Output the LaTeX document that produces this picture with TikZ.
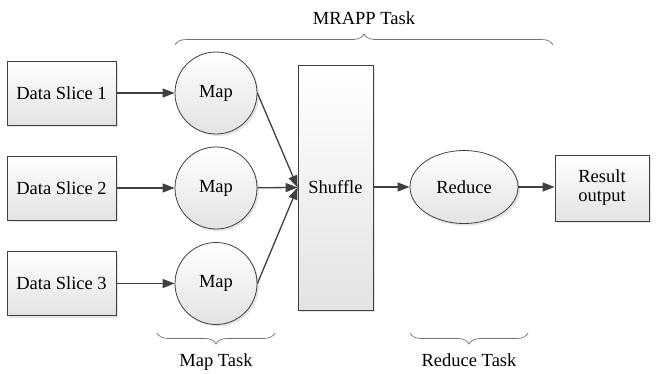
\documentclass[tikz,border=0pt]{standalone}
\usepackage{fontspec}
\setmainfont{Liberation Serif}
\usetikzlibrary{arrows.meta,shapes.geometric,shadows,decorations.pathreplacing}
\newcommand\figfont{\rmfamily\fontsize{18.5}{21}\selectfont}
\tikzset{
  shd/.style={drop shadow={shadow xshift=2pt,shadow yshift=-2pt,opacity=.22}},
  blk/.style={rectangle,draw=black!75,top color=white,bottom color=black!11,line width=.8pt,shd,font=\figfont,inner sep=2pt,align=center},
  slice/.style={blk,minimum width=109pt,minimum height=64pt},
  mapn/.style={circle,draw=black!75,top color=white,bottom color=black!11,line width=.8pt,shd,font=\figfont,minimum size=82pt,inner sep=0pt},
  redn/.style={ellipse,draw=black!75,top color=white,bottom color=black!11,line width=.8pt,shd,font=\figfont,minimum width=108pt,minimum height=73pt,inner sep=0pt},
  flow/.style={-{Triangle[length=12pt,width=9pt]},line width=1.3pt,draw=black!75},
  brc/.style={decorate,decoration={brace,amplitude=11pt},draw=black!55,line width=.7pt},
  brcm/.style={decorate,decoration={brace,amplitude=11pt,mirror},draw=black!55,line width=.7pt},
  lb/.style={font=\figfont},
}
\begin{document}
\begin{tikzpicture}[x=1pt,y=-1pt]
\useasboundingbox (0,0) rectangle (657,373);
% inputs
\node[slice] (d1) at (61.5,93) {Data Slice 1};
\node[slice] (d2) at (61.5,188) {Data Slice 2};
\node[slice] (d3) at (61.5,283.5) {Data Slice 3};
% map stage
\node[mapn] (m1) at (216,93) {Map};
\node[mapn] (m2) at (216,188) {Map};
\node[mapn] (m3) at (216,283.5) {Map};
\node[blk,minimum width=75pt,minimum height=245pt] (sh) at (335.5,187.5) {Shuffle};
% reduce stage
\node[redn] (rd) at (464,187) {Reduce};
\node[blk,minimum width=94pt,minimum height=66pt] (out) at (602,188) {Result\\[-2pt]output};

\draw[flow] (d1)--(m1);
\draw[flow] (d2)--(m2);
\draw[flow] (d3)--(m3);
\draw[flow] (m1.east)--(sh.west);
\draw[flow] (m2)--(sh.west);
\draw[flow] (m3.east)--(sh.west);
\draw[flow] (sh.east|-rd.west)--(rd.west);
\draw[flow] (rd.east)--(out.west|-rd.east);

% task braces
\coordinate (ta) at (175,45); \coordinate (tb) at (553,45);
\draw[brc] (ta)--(tb) node[midway,above=17pt,lb] (tt) {MRAPP Task};
\coordinate (ma) at (157,333); \coordinate (mb) at (275,333);
\draw[brcm] (ma)--(mb) node[midway,below=17pt,lb] (mt) {Map Task};
\coordinate (ra) at (410,333); \coordinate (rb) at (528,333);
\draw[brcm] (ra)--(rb) node[midway,below=17pt,lb] (rt) {Reduce Task};
\end{tikzpicture}
\end{document}
